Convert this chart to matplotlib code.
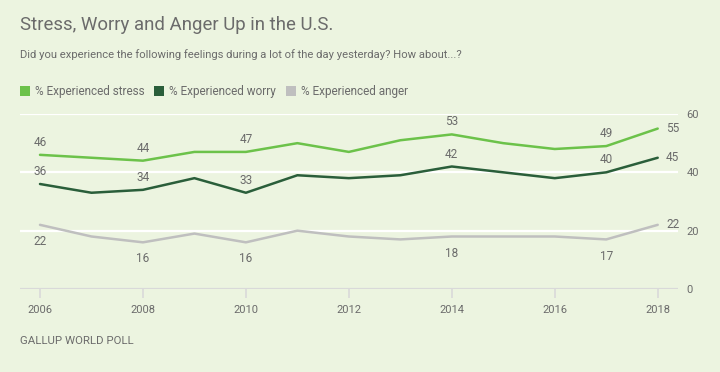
import matplotlib
matplotlib.use("Agg")
import matplotlib.pyplot as plt
from matplotlib.patches import Rectangle

# data
years = [2006, 2007, 2008, 2009, 2010, 2011, 2012, 2013, 2014, 2015, 2016, 2017, 2018]
stress = [46, 45, 44, 47, 47, 50, 47, 51, 53, 50, 48, 49, 55]
worry = [36, 33, 34, 38, 33, 39, 38, 39, 42, 40, 38, 40, 45]
anger = [22, 18, 16, 19, 16, 20, 18, 17, 18, 18, 18, 17, 22]
labeled_years = [2006, 2008, 2010, 2014, 2017]
x_ticks = [2006, 2008, 2010, 2012, 2014, 2016, 2018]
y_ticks = [0, 20, 40, 60]

BG = "#ECF4E0"
TXT = "#6B6B6B"
C_STRESS = "#6CC24A"
C_WORRY = "#2A5E3A"
C_ANGER = "#BFBFBF"

plt.rcParams["font.family"] = ["Roboto", "DejaVu Sans"]

W, H = 720, 372
fig = plt.figure(figsize=(W / 100, H / 100), dpi=100, facecolor=BG)
ax = fig.add_axes([20 / W, 83 / H, 658 / W, 175 / H], facecolor=BG)

ax.set_xlim(2006 - 20 / 51.5, 2018 + 20.3 / 51.5)
ax.set_ylim(0, 60)

for v in y_ticks[1:]:
    ax.axhline(v, color="white", lw=1.6, zorder=1)
ax.axhline(0, color="#D9D9D9", lw=1.6, zorder=1)

series = [
    (stress, C_STRESS, "above"),
    (worry, C_WORRY, "above"),
    (anger, C_ANGER, "below"),
]
for vals, col, where in series:
    ax.plot(years, vals, color=col, lw=1.8, zorder=3, solid_capstyle="round")
    for yr, v in zip(years, vals):
        if yr in labeled_years:
            dy = 9 if where == "above" else -12
            ax.annotate(str(v), (yr, v), xytext=(0, dy), textcoords="offset points",
                        ha="center", va="center", fontsize=8.5, color=TXT)
    ax.annotate(str(vals[-1]), (years[-1], vals[-1]), xytext=(6, 0),
                textcoords="offset points", ha="left", va="center",
                fontsize=8.5, color=TXT)

for s in ax.spines.values():
    s.set_visible(False)

ax.set_xticks(x_ticks)
ax.set_xticklabels([str(t) for t in x_ticks])
ax.tick_params(axis="x", length=6.5, width=1.2, color="#D9D9D9",
               labelsize=8, labelcolor=TXT, pad=5)
ax.yaxis.tick_right()
ax.set_yticks(y_ticks)
ax.tick_params(axis="y", length=0, labelsize=8, labelcolor=TXT, pad=6)

# header
fig.text(20 / W, 1 - 25 / H, "Stress, Worry and Anger Up in the U.S.",
         fontsize=13.4, color=TXT, va="center", ha="left")
fig.text(20 / W, 1 - 55 / H,
         "Did you experience the following feelings during a lot of the day yesterday? How about...?",
         fontsize=8.1, color=TXT, va="center", ha="left")

# legend
legend_items = [
    (20, "% Experienced stress", C_STRESS),
    (154, "% Experienced worry", C_WORRY),
    (286, "% Experienced anger", C_ANGER),
]
for x0, lab, col in legend_items:
    fig.patches.append(Rectangle((x0 / W, 1 - 96 / H), 10 / W, 10 / H,
                                 transform=fig.transFigure, facecolor=col,
                                 edgecolor="none"))
    fig.text((x0 + 15) / W, 1 - 91 / H, lab, fontsize=8.5, color=TXT,
             va="center", ha="left")

fig.text(20 / W, 1 - 341 / H, "GALLUP WORLD POLL", fontsize=8.2, color=TXT,
         va="center", ha="left")

fig.savefig("out.png", dpi=100, facecolor=BG)
